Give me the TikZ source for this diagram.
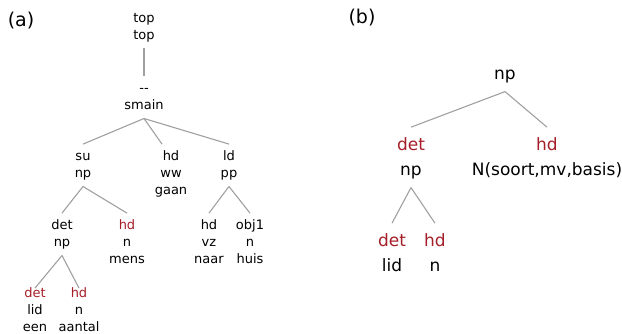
\documentclass[tikz,border=0pt]{standalone}
\usepackage{fontspec}
\setmainfont{DejaVu Sans}
\definecolor{fnred}{RGB}{165,30,40}
\definecolor{edgegray}{RGB}{160,160,160}
% invisible rules fixing the top of the first line and the bottom of the last
\newcommand\topA{\rule{0pt}{12.5pt}}
\newcommand\botA{\rule[-4.5pt]{0pt}{4.5pt}}
\newcommand\topB{\rule{0pt}{19.5pt}}
\newcommand\botB{\rule[-7.5pt]{0pt}{7.5pt}}
\newcommand\fnlab[1]{\textcolor{fnred}{#1}}
\begin{document}
\begin{tikzpicture}[x=1pt,y=-1pt,
  sa/.style={anchor=north, align=center, inner xsep=0pt, inner ysep=4pt,
    font=\fontsize{13}{17}\selectfont},
  leafa/.style={sa, inner ysep=0pt},
  sb/.style={anchor=north, align=center, inner xsep=0pt, inner ysep=4pt,
    font=\fontsize{17}{25}\selectfont},
  edge/.style={draw=edgegray, line width=1.1pt},
  panel/.style={font=\fontsize{19}{22}\selectfont, inner sep=0pt}]
\path[use as bounding box] (0,0) rectangle (622,334);

% ---- panel (a): full parse tree ----
\node[panel] (la) at (21,21) {(a)};
\node[sa] (top)     at (144,6.1)   {\topA top\\top\botA};
\node[sa] (smain)   at (144,76.1)  {\topA -{}-\\smain\botA};
\node[sa] (su)      at (83,144.1)  {\topA su\\np\botA};
\node[sa] (hdww)    at (171,144.1) {\topA hd\\ww\\gaan\botA};
\node[sa] (ld)      at (229,144.1) {\topA ld\\pp\botA};
\node[sa] (detnp)   at (62,213.1)  {\topA det\\np\botA};
\node[sa] (hdmens)  at (127,213.1) {\topA\fnlab{hd}\\n\\mens\botA};
\node[sa] (hdvz)    at (209,213.1) {\topA hd\\vz\\naar\botA};
\node[sa] (obj)     at (250,213.1) {\topA obj1\\n\\huis\botA};
\node[leafa] (detlid)  at (35,285.1)  {\topA\fnlab{det}\\lid\\een};
\node[leafa] (hdaant)  at (79,285.1)  {\topA\fnlab{hd}\\n\\aantal};

\draw[edge] (top.south) -- (smain.north);
\draw[edge] (smain.south) -- (su.north);
\draw[edge] (smain.south) -- ([xshift=-9pt]hdww.north);
\draw[edge] (smain.south) -- (ld.north);
\draw[edge] (su.south) -- (detnp.north);
\draw[edge] (su.south) -- (hdmens.north);
\draw[edge] (ld.south) -- (hdvz.north);
\draw[edge] (ld.south) -- (obj.north);
\draw[edge] (detnp.south) -- ([yshift=-3pt]detlid.north);
\draw[edge] (detnp.south) -- ([yshift=-3pt]hdaant.north);

% ---- panel (b): reduced tree ----
\node[panel] (lb) at (362,18) {(b)};
\node[sb] (npb)   at (505,56.2)  {\topB np\botB};
\node[sb] (detb)  at (411,127.2) {\topB\fnlab{det}\\np\botB};
\node[sb] (hdb)   at (547,127.2) {\topB\fnlab{hd}\\N(soort,mv,basis)\botB};
\node[sb] (detl)  at (392,223.2) {\topB\fnlab{det}\\lid\botB};
\node[sb] (hdl)   at (435,223.2) {\topB\fnlab{hd}\\n\botB};

\draw[edge] (npb.south) -- (detb.north);
\draw[edge] (npb.south) -- (hdb.north);
\draw[edge] (detb.south) -- (detl.north);
\draw[edge] (detb.south) -- (hdl.north);
\end{tikzpicture}
\end{document}
